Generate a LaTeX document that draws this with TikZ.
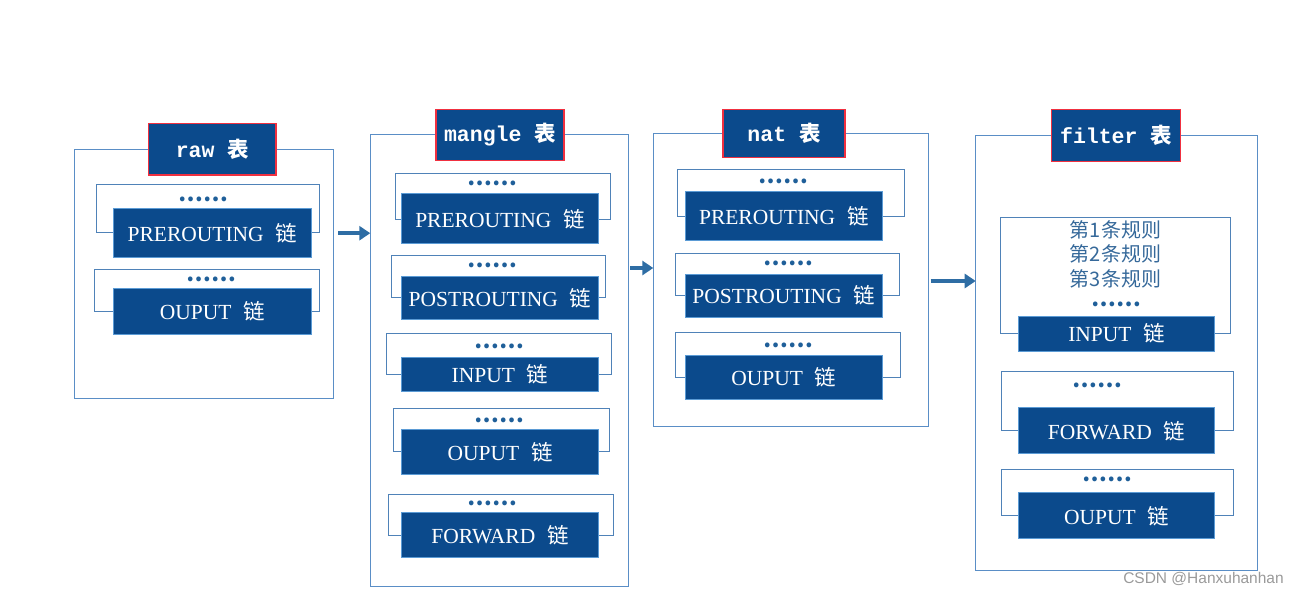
\documentclass[tikz,border=0pt]{standalone}
\usepackage{fontspec}
\setmainfont{Liberation Serif}
\newfontfamily\cjk{Noto Sans CJK SC}
\newfontfamily\monob{Liberation Mono}
\newfontfamily\wmfont{Liberation Sans}
\usetikzlibrary{arrows.meta}
\definecolor{chainfill}{HTML}{0B4A8C}
\definecolor{chainedge}{HTML}{5B9BD5}
\definecolor{frameline}{HTML}{4F82B8}
\definecolor{outerline}{HTML}{5A8EC6}
\definecolor{titleedge}{HTML}{F03040}
\definecolor{dotblue}{HTML}{1F5F99}
\definecolor{ruletext}{HTML}{36699A}
\definecolor{arrowblue}{HTML}{2E6DA4}
\definecolor{wmgray}{HTML}{9A9A9A}
\newcommand\rectnode[7]{\node[#2, minimum width={#5pt-#3pt}, minimum height={#6pt-#4pt}] (#1) at (#3,#4) {#7};}
\newcommand\lian{\hspace{0.55em}{\cjk 链}}
\newcommand\biao{\hspace{0.6em}{\cjk 表}}
\begin{document}
\begin{tikzpicture}[x=1pt,y=-1pt,
 outerbox/.style={draw=outerline, line width=1pt, anchor=north west, inner sep=0pt, outer sep=0pt},
 framebox/.style={draw=frameline, line width=1pt, anchor=north west, inner sep=0pt, outer sep=0pt},
 chainbox/.style={fill=chainfill, draw=chainedge, line width=1pt, anchor=north west, inner sep=0pt, outer sep=0pt, text=white, font=\fontsize{21.5}{24}\selectfont},
 titlebox/.style={fill=chainfill, draw=titleedge, line width=1.4pt, anchor=north west, inner sep=0pt, outer sep=0pt, text=white, font=\monob\bfseries\fontsize{21.5}{24}\selectfont},
 dots/.style={text=dotblue, font=\cjk\bfseries\fontsize{22}{24}\selectfont, inner sep=0pt},
 flow/.style={draw=arrowblue, line width=3.8pt, -{Triangle[length=11pt,width=14pt]}}
]
\useasboundingbox (0,0) rectangle (1299,594);

% outer table boxes
\rectnode{rawtab}{outerbox}{74.3}{149.3}{333}{398.3}{}
\rectnode{mangletab}{outerbox}{370.3}{134.3}{628}{586.7}{}
\rectnode{nattab}{outerbox}{653.3}{133.7}{928.7}{426.7}{}
\rectnode{filtertab}{outerbox}{975.7}{135}{1257.7}{570.3}{}

% titles
\rectnode{rawt}{titlebox}{148.7}{123.7}{276}{175}{raw\biao}
\rectnode{manglet}{titlebox}{436}{109.3}{564}{160.7}{mangle\biao}
\rectnode{natt}{titlebox}{723}{109.7}{845}{157.7}{nat\biao}
\rectnode{filtert}{titlebox}{1051.3}{109.3}{1180.7}{161.7}{filter\biao}

% chain frames
\rectnode{rawpref}{framebox}{96}{184.7}{319}{232.7}{}
\rectnode{rawoutf}{framebox}{94.7}{269}{319}{311}{}
\rectnode{mpref}{framebox}{395}{173.3}{610.3}{219}{}
\rectnode{mpostf}{framebox}{391.7}{255.7}{605.7}{297.7}{}
\rectnode{minf}{framebox}{386.3}{333.3}{611}{374}{}
\rectnode{moutf}{framebox}{393}{408.3}{609.3}{451.7}{}
\rectnode{mfwdf}{framebox}{388.3}{494}{613.7}{535}{}
\rectnode{npref}{framebox}{677}{169.3}{904.3}{216.3}{}
\rectnode{npostf}{framebox}{675.7}{253}{899.3}{295.7}{}
\rectnode{noutf}{framebox}{675}{332.3}{900.3}{377.3}{}
\rectnode{finf}{framebox}{1000.3}{217}{1230.7}{333}{}
\rectnode{ffwdf}{framebox}{1001.3}{371.7}{1233.7}{430.7}{}
\rectnode{foutf}{framebox}{1001.3}{469.7}{1233.7}{515.7}{}

% chains
\rectnode{rawpre}{chainbox}{113.7}{208.7}{311}{257.7}{PREROUTING\lian}
\rectnode{rawout}{chainbox}{113.7}{288.3}{311}{334}{OUPUT\lian}
\rectnode{mpre}{chainbox}{401.3}{193.7}{598.7}{243.7}{PREROUTING\lian}
\rectnode{mpost}{chainbox}{401.3}{276.7}{598.7}{319}{POSTROUTING\lian}
\rectnode{min}{chainbox}{401.3}{357.3}{598.7}{391.3}{INPUT\lian}
\rectnode{mout}{chainbox}{401.3}{429.3}{598.7}{474.3}{OUPUT\lian}
\rectnode{mfwd}{chainbox}{401.3}{512.3}{598.7}{557.3}{FORWARD\lian}
\rectnode{npre}{chainbox}{685.3}{191.7}{882.3}{240.3}{PREROUTING\lian}
\rectnode{npost}{chainbox}{685.3}{274}{882.3}{317}{POSTROUTING\lian}
\rectnode{nout}{chainbox}{685.3}{355}{882.3}{399.3}{OUPUT\lian}
\rectnode{fin}{chainbox}{1018.5}{316}{1214.7}{351}{INPUT\lian}
\rectnode{ffwd}{chainbox}{1018.5}{407.7}{1214.7}{453.7}{FORWARD\lian}
\rectnode{fout}{chainbox}{1018.5}{492.7}{1214.7}{538.7}{OUPUT\lian}

% dots
\node[dots] (d1) at (203.5,199.7) {……};
\node[dots] (d2) at (211.5,279.7) {……};
\node[dots] (d3) at (492,183.7) {……};
\node[dots] (d4) at (492,265.3) {……};
\node[dots] (d5) at (499,346.7) {……};
\node[dots] (d6) at (499,420) {……};
\node[dots] (d7) at (492,503) {……};
\node[dots] (d8) at (783,181.3) {……};
\node[dots] (d9) at (788,263.7) {……};
\node[dots] (d10) at (788,345) {……};
\node[dots] (d11) at (1116,304) {……};
\node[dots] (d12) at (1097,385.3) {……};
\node[dots] (d13) at (1107,479.7) {……};

% rules
\node[text=ruletext, font=\cjk\fontsize{20}{24.5}\selectfont, align=center, inner sep=0pt] (rules) at (1115.5,254) {第1条规则\\第2条规则\\第3条规则};

% arrows
\coordinate (a2) at (0,268);
\coordinate (a3) at (0,281);
\draw[flow] ([xshift=5pt]rawtab.east |- rawpre) -- (mangletab.west |- rawpre);
\draw[flow] ([xshift=2pt]mangletab.east |- a2) -- (nattab.west |- a2);
\draw[flow] ([xshift=2pt]nattab.east |- a3) -- (filtertab.west |- a3);

% watermark
\node[text=wmgray, font=\wmfont\fontsize{15.5}{18}\selectfont, inner sep=0pt] (wm) at (1203.5,578.5) {CSDN @Hanxuhanhan};
\end{tikzpicture}
\end{document}
